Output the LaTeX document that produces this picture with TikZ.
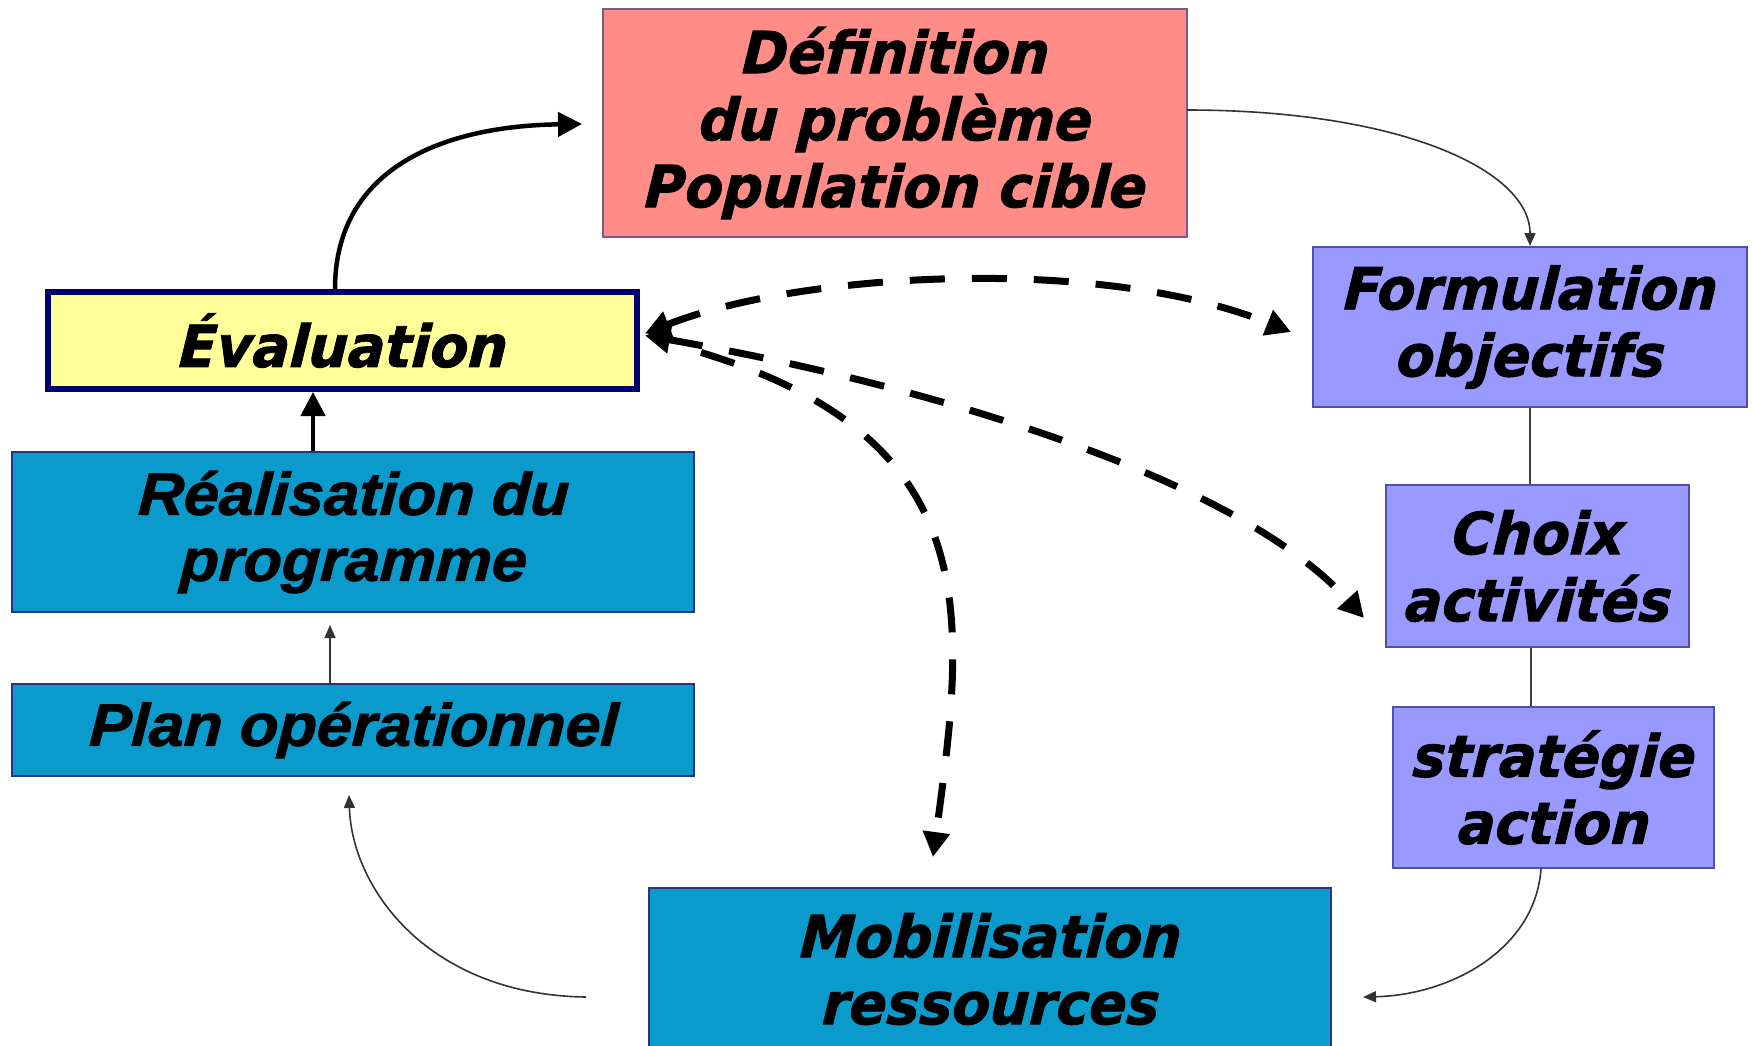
\documentclass[tikz,border=0pt]{standalone}
\usepackage{fontspec}
\usetikzlibrary{arrows.meta,calc}
\newfontfamily\verd[FakeStretch=0.95,FakeBold=1.5,FakeSlant=0.06]{DejaVu Sans}
\newfontfamily\ari[FakeStretch=1.05,FakeBold=1.5,FakeSlant=0.05]{Liberation Sans}

\definecolor{defpink}{RGB}{255,140,134}
\definecolor{defedge}{RGB}{120,90,140}
\definecolor{lav}{RGB}{153,153,255}
\definecolor{lavedge}{RGB}{80,80,170}
\definecolor{cyanblue}{RGB}{10,154,204}
\definecolor{navyedge}{RGB}{40,50,140}
\definecolor{paleyellow}{RGB}{255,255,153}
\definecolor{navy}{RGB}{0,0,110}

\tikzset{dtip/.tip={Triangle[length=25pt,width=26pt]}}

\begin{document}
\begin{tikzpicture}[x=1pt,y=-1pt,
  base/.style={rectangle, inner sep=0pt, align=center, text=black, line width=2pt},
  vtext/.style={font=\verd\bfseries\itshape\fontsize{58}{67}\selectfont},
  atext/.style={font=\ari\bfseries\itshape\fontsize{60}{66}\selectfont},
  defbox/.style={base, vtext, fill=defpink, draw=defedge},
  lavbox/.style={base, vtext, fill=lav, draw=lavedge},
  bluebox/.style={base, fill=cyanblue, draw=navyedge},
  evalbox/.style={base, vtext, fill=paleyellow, draw=navy, line width=6pt},
  thickarrow/.style={line width=4.5pt, -{Triangle[length=24pt,width=24pt]}},
  thinarrow/.style={line width=1.6pt, draw=black!80, -{Triangle[length=13pt,width=11pt]}},
  thinlink/.style={line width=1.6pt, draw=black!75},
  dashlink/.style={line width=7pt, dash pattern=on 35pt off 27pt}
]
\useasboundingbox (0,0) rectangle (1752,1045);
\clip (0,0) rectangle (1752,1045);
\fill[white] (0,0) rectangle (1752,1045);

% boxes
\node[defbox, minimum width=584pt, minimum height=228pt] (def) at (895,123)
  {Définition\\du problème\\Population cible};
\node[lavbox, minimum width=434pt, minimum height=160pt] (form) at (1530,327)
  {Formulation\\objectifs};
\node[lavbox, minimum width=303pt, minimum height=162pt] (choix) at (1537.5,566)
  {Choix\\activités};
\node[lavbox, minimum width=321pt, minimum height=161pt] (strat) at (1553.5,787.5)
  {stratégie\\action};
\node[bluebox, vtext, minimum width=682pt, minimum height=162pt] (mob) at (990,969)
  {Mobilisation\\ressources};
\node[evalbox, minimum width=589pt, minimum height=97pt] (eval) at (342.5,340.5)
  {Évaluation};
\node[bluebox, atext, minimum width=682pt, minimum height=160pt] (real) at (353,532)
  {Réalisation du\\programme};
\node[bluebox, atext, minimum width=682pt, minimum height=92pt] (plan) at (353,730)
  {Plan opérationnel};

% main cycle
\draw[thickarrow] ($(eval.north)+(-7.5,0)$) .. controls (335,170) and (440,126) .. ($(def.west)+(-20,1)$);
\draw[thickarrow] ($(real.north)+(-40,0)$) -- ($(eval.south)+(-29.5,0)$);
\draw[thinarrow] ($(plan.north)+(-23,0)$) -- ($(real.south)+(-23,12)$);
\draw[thinarrow] ($(mob.west)+(-62,28)$) .. controls (430,995) and (352,890) .. ($(plan.south)+(-4,18)$);
\draw[thinarrow] ($(strat.south)+(-12.5,0)$) .. controls (1535,950) and (1450,995) .. ($(mob.east)+(31,28)$);
\draw[thinarrow] ($(def.east)+(-1,-13)$) .. controls (1400,110) and (1530,170) .. (form.north);
\draw[thinlink] (form.south) -- ($(choix.north)+(-7.5,0)$);
\draw[thinlink] ($(choix.south)+(-6.5,0)$) -- ($(strat.north)+(-22.5,0)$);

% evaluation links
\draw[dashlink, dtip-dtip] ($(eval.east)+(5,-7)$) .. controls (800,272) and (1100,255) .. ($(form.west)+(-21,5)$);
\draw[dashlink, dtip-dtip] ($(eval.east)+(5,-5)$) .. controls (900,380) and (1230,470) .. ($(choix.west)+(-21,52)$);
\draw[dashlink, -dtip] ($(eval.east)+(61,12)$) .. controls (990,440) and (965,620) .. ($(mob.north)+(-57,-30)$);
\end{tikzpicture}
\end{document}
